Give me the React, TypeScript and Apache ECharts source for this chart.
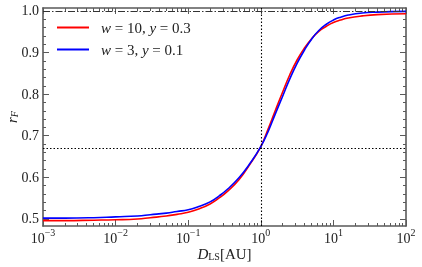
import React, { useEffect, useRef } from "react";
import * as echarts from "echarts";

const distances = [0.001, 0.002, 0.005, 0.01, 0.02, 0.03, 0.05, 0.07, 0.1, 0.14, 0.2, 0.27, 0.35, 0.5, 0.7, 1, 1.26, 1.58, 2, 2.5, 3.16, 4, 5, 6.3, 8, 10, 12.6, 16, 25, 40, 100];
const redValues = [0.496, 0.496, 0.497, 0.498, 0.5, 0.503, 0.507, 0.511, 0.516, 0.524, 0.536, 0.551, 0.567, 0.594, 0.63, 0.674, 0.716, 0.76, 0.805, 0.846, 0.882, 0.911, 0.933, 0.951, 0.963, 0.972, 0.978, 0.983, 0.988, 0.991, 0.993];
const blueValues = [0.502, 0.502, 0.503, 0.505, 0.507, 0.51, 0.514, 0.518, 0.522, 0.53, 0.541, 0.556, 0.572, 0.599, 0.632, 0.674, 0.71, 0.752, 0.795, 0.836, 0.874, 0.906, 0.932, 0.953, 0.968, 0.978, 0.985, 0.99, 0.995, 0.997, 0.999];
const seriesNames = ["w = 10, y = 0.3", "w = 3, y = 0.1"];
const xMajorTicks = [0.001, 0.01, 0.1, 1, 10, 100];
const xMinorTicks = [0.002, 0.003, 0.004, 0.005, 0.006, 0.007, 0.008, 0.009, 0.02, 0.03, 0.04, 0.05, 0.06, 0.07, 0.08, 0.09, 0.2, 0.3, 0.4, 0.5, 0.6, 0.7, 0.8, 0.9, 2, 3, 4, 5, 6, 7, 8, 9, 20, 30, 40, 50, 60, 70, 80, 90];
const yMajorTicks = [0.5, 0.6, 0.7, 0.8, 0.9, 1.0];
const yMinorTicks = [0.52, 0.54, 0.56, 0.58, 0.62, 0.64, 0.66, 0.68, 0.72, 0.74, 0.76, 0.78, 0.82, 0.84, 0.86, 0.88, 0.92, 0.94, 0.96, 0.98];
const hLineValue = 0.673;
const vLineValue = 1;
const topLineValue = 1.0;

const FONT = "Liberation Serif";
const AXIS_COLOR = "#5a5a5a";

export default function App() {
  const ref = useRef<HTMLDivElement>(null);
  useEffect(() => {
    if (!ref.current) return;
    const chart = echarts.init(ref.current, null, { renderer: "svg" });
    const xMin = 0.001, xMax = 100, yMin = 0.483, yMax = 1.007;
    const mkX = (pos: string, ticks: number[], len: number, labels: boolean, line: boolean) => ({
      type: "log",
      logBase: 10,
      position: pos,
      offset: 0,
      min: xMin,
      max: xMax,
      axisLine: { show: line, lineStyle: { color: AXIS_COLOR, width: 1.6 } },
      axisTick: { show: true, inside: true, length: len, customValues: ticks, lineStyle: { color: AXIS_COLOR, width: 1 } },
      axisLabel: labels
        ? {
            show: true,
            customValues: ticks,
            margin: 1,
            color: "#222",
            fontFamily: FONT,
            formatter: (v: number) => {
              const e = Math.round(Math.log10(v));
              return "{b|10}{s|" + (e < 0 ? "\u2212" + -e : String(e)) + "}";
            },
            rich: {
              b: { fontSize: 14, fontFamily: FONT, color: "#222", lineHeight: 18, verticalAlign: "bottom" },
              s: { fontSize: 10, fontFamily: FONT, color: "#222", lineHeight: 18, verticalAlign: "top", padding: [0, 0, 8, 0] },
            },
          }
        : { show: false },
      splitLine: { show: false },
      minorTick: { show: false },
    });
    const mkY = (pos: string, ticks: number[], len: number, labels: boolean, line: boolean) => ({
      type: "value",
      position: pos,
      offset: 0,
      min: yMin,
      max: yMax,
      axisLine: { show: line, lineStyle: { color: AXIS_COLOR, width: 1.6 } },
      axisTick: { show: true, inside: true, length: len, customValues: ticks, lineStyle: { color: AXIS_COLOR, width: 1 } },
      axisLabel: labels
        ? { show: true, customValues: ticks, margin: 4, color: "#222", fontFamily: FONT, fontSize: 14, formatter: (v: number) => v.toFixed(1) }
        : { show: false },
      splitLine: { show: false },
    });
    const xAxes: any[] = [
      {
        ...mkX("bottom", xMajorTicks, 6, true, true),
        name: "{i|D}{sub|LS}{n|[AU]}",
        nameLocation: "middle",
        nameGap: 17,
        nameMoveOverlap: false,
        nameTextStyle: {
          rich: {
            i: { fontSize: 15, fontFamily: FONT, fontStyle: "italic", color: "#222", verticalAlign: "bottom", lineHeight: 18 },
            sub: { fontSize: 10, fontFamily: FONT, color: "#222", verticalAlign: "bottom", lineHeight: 18, padding: [6, 0, 0, 0] },
            n: { fontSize: 15, fontFamily: FONT, color: "#222", verticalAlign: "bottom", lineHeight: 18 },
          },
        },
      },
      mkX("bottom", xMinorTicks, 3, false, false),
      mkX("top", xMajorTicks, 6, false, true),
      mkX("top", xMinorTicks, 3, false, false),
    ];
    const yAxes: any[] = [
      {
        ...mkY("left", yMajorTicks, 6, true, true),
        name: "{i|r}{sub|F}",
        nameLocation: "middle",
        nameGap: 24,
        nameMoveOverlap: false,
        nameTextStyle: {
          rich: {
            i: { fontSize: 15, fontFamily: FONT, fontStyle: "italic", color: "#222", verticalAlign: "bottom", lineHeight: 18 },
            sub: { fontSize: 10, fontFamily: FONT, fontStyle: "italic", color: "#222", verticalAlign: "bottom", lineHeight: 18, padding: [6, 0, 0, 0] },
          },
        },
      },
      mkY("left", yMinorTicks, 3, false, false),
      mkY("right", yMajorTicks, 6, false, true),
      mkY("right", yMinorTicks, 3, false, false),
    ];
    const toPairs = (vals: number[]) => distances.map((d, i) => [d, vals[i]]);
    chart.setOption({
      animation: false,
      grid: { left: 43, right: 16, top: 8, bottom: 41, containLabel: false, outerBoundsMode: "none" },
      legend: {
        left: 52,
        top: 15,
        orient: "vertical",
        icon: "rect",
        itemWidth: 32,
        itemHeight: 2,
        itemGap: 7,
        data: seriesNames,
        formatter: (name: string) => name.replace(/([wy])/g, "{i|$1}"),
        textStyle: {
          fontFamily: FONT,
          fontSize: 15,
          color: "#222",
          padding: [0, 0, 0, 7],
          rich: {
            i: { fontFamily: FONT, fontSize: 15, fontStyle: "italic", color: "#222" },
          },
        },
      },
      xAxis: xAxes,
      yAxis: yAxes,
      series: [
        {
          name: seriesNames[0],
          type: "line",
          data: toPairs(redValues),
          smooth: 0.5,
          symbol: "none",
          showSymbol: false,
          lineStyle: { color: "#ff0000", width: 1.6 },
          itemStyle: { color: "#ff0000" },
          z: 3,
          markLine: {
            silent: true,
            symbol: "none",
            label: { show: false },
            animation: false,
            data: [
              { yAxis: hLineValue, lineStyle: { color: "#000", type: [1.5, 2], width: 1.1 } },
              { xAxis: vLineValue, lineStyle: { color: "#000", type: [1.5, 2], width: 1.1 } },
              { yAxis: topLineValue, lineStyle: { color: "#333", type: [7, 2, 1.5, 2], width: 1.2 } },
            ],
          },
        },
        {
          name: seriesNames[1],
          type: "line",
          data: toPairs(blueValues),
          smooth: 0.5,
          symbol: "none",
          showSymbol: false,
          lineStyle: { color: "#0000ff", width: 1.6 },
          itemStyle: { color: "#0000ff" },
          z: 4,
        },
      ],
    });
    return () => chart.dispose();
  }, []);
  return <div ref={ref} style={{ position: "fixed", left: 0, top: 0, width: 422, height: 267 }} />;
}
